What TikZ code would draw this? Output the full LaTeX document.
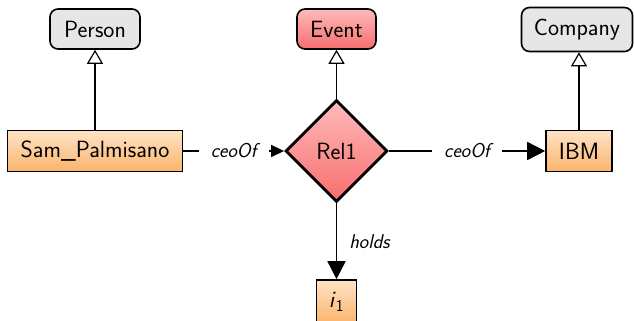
\documentclass[tikz,border=0pt]{standalone}
\usetikzlibrary{shapes.geometric,arrows.meta}
\definecolor{orTop}{HTML}{FFE3C6}
\definecolor{orBot}{HTML}{FBB46C}
\definecolor{rdTop}{HTML}{FFBABA}
\definecolor{rdBot}{HTML}{F76E6E}
\definecolor{grFill}{HTML}{E6E6E6}
\tikzset{
  txt/.style={font=\sffamily\fontsize{23.5}{28}\selectfont},
  cls/.style={txt, draw, line width=1.6pt, rounded corners=8pt, fill=grFill, inner sep=0pt, minimum height=40pt},
  evcls/.style={cls, fill=none, top color=rdTop, bottom color=rdBot},
  inst/.style={txt, draw, line width=1.6pt, top color=orTop, bottom color=orBot, inner sep=0pt, minimum height=41pt},
  rel/.style={txt, diamond, draw, line width=2.8pt, top color=rdTop, bottom color=rdBot, inner sep=0pt, minimum width=102pt, minimum height=102pt},
  isa/.style={line width=1.3pt, -{Triangle[open, length=14pt, width=16pt, line width=1.2pt]}},
  conn/.style={line width=1.5pt},
  lbltxt/.style={font=\sffamily\itshape\fontsize{20}{24}\selectfont},
  lbl/.style={lbltxt, fill=white, inner sep=12pt}
}
\begin{document}
\begin{tikzpicture}[x=1pt,y=-1pt]
\useasboundingbox (0,0) rectangle (634,321);
\node[cls, minimum width=90pt] (person) at (95,29) {Person};
\node[evcls, minimum width=79pt] (event) at (336.5,29) {Event};
\node[cls, minimum width=111pt, minimum height=44pt] (company) at (577,29.5) {Company};
\node[inst, minimum width=175pt] (sam) at (95,151) {Sam\_Palmisano};
\node[rel] (rel1) at (336.5,151) {Rel1};
\node[inst, minimum width=66pt] (ibm) at (579,151) {IBM};
\node[inst, minimum width=40pt, minimum height=44pt] (i1) at (336.5,302) {\textit{i}\textsubscript{1}};
\draw[isa] (sam) -- (sam |- person.south);
\draw[isa] (rel1) -- (event);
\draw[isa] (ibm) -- (ibm |- company.south);
\draw[conn, -{Triangle[length=13pt, width=12pt]}] (sam) -- node[lbl] {ceoOf} (rel1);
\draw[conn, -{Triangle[length=18pt, width=18pt]}] (rel1) -- node[lbl] {ceoOf} (ibm);
\draw[conn, -{Triangle[length=18pt, width=18pt]}] (rel1) -- node[lbltxt, right, inner sep=12pt] {holds} (i1);
\end{tikzpicture}
\end{document}
